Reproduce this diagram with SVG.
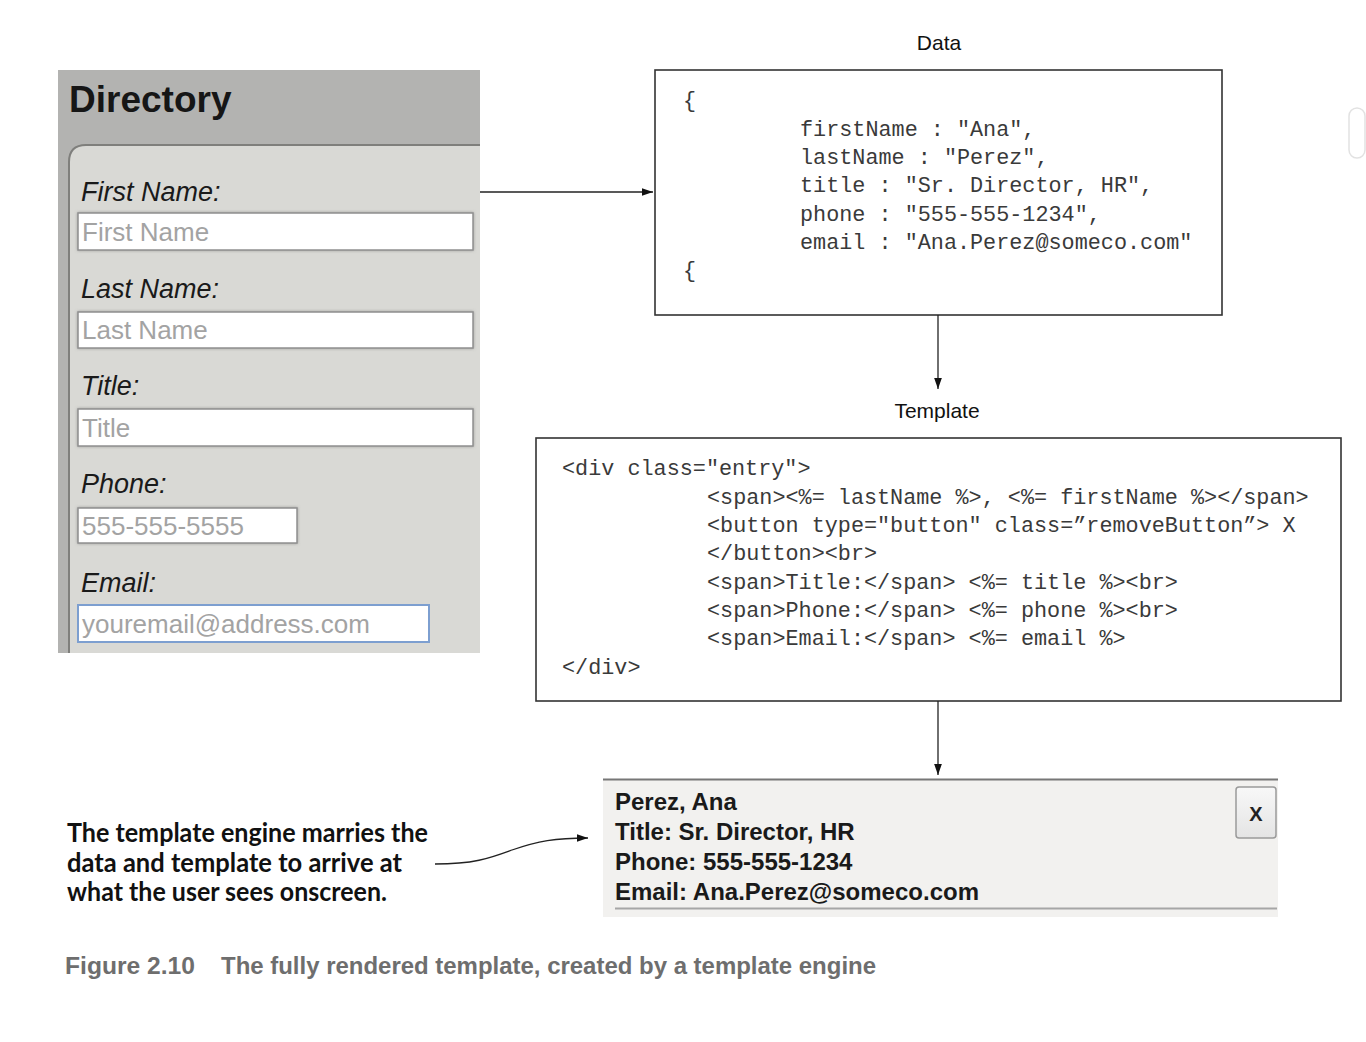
<svg xmlns="http://www.w3.org/2000/svg" width="1366" height="1042" viewBox="0 0 1366 1042">
<defs>
<style>
.lbl{font-family:"Liberation Sans",Arial,sans-serif;font-style:italic;font-size:27px;fill:#1a1a1a}
.ph{font-family:"Liberation Sans",Arial,sans-serif;font-size:26px;fill:#a3a3a3}
.inp{fill:#fff;stroke:#8f8f8f;stroke-width:1.5}
.code{font-family:"Liberation Mono","Courier New",monospace;font-size:21.8px;fill:#3a3a3a}
.cap{font-family:"Liberation Sans",Arial,sans-serif;font-size:21px;fill:#111}
.card{font-family:"Liberation Sans",Arial,sans-serif;font-weight:bold;font-size:24px;fill:#1a1a1a}
.note{font-family:Lato,"Open Sans",sans-serif;font-weight:bold;font-size:26px;fill:#111}
.fig{font-family:"Liberation Sans",Arial,sans-serif;font-weight:bold;font-size:23px;fill:#6e6e6e}
.box{fill:#fff;stroke:#333;stroke-width:1.6}
.conn{fill:none;stroke:#222;stroke-width:1.3}
</style>
<marker id="ah" viewBox="0 0 10 10" refX="10" refY="5" markerWidth="11" markerHeight="11" markerUnits="userSpaceOnUse" orient="auto">
<path d="M0,1.5 L10,5 L0,8.5 Z" fill="#111"/>
</marker>
<filter id="sh" x="-5%" y="-20%" width="110%" height="140%">
<feDropShadow dx="0" dy="0" stdDeviation="1.5" flood-color="#777" flood-opacity="0.6"/>
</filter>
<linearGradient id="btn" x1="0" y1="0" x2="0" y2="1">
<stop offset="0" stop-color="#f8f8f8"/>
<stop offset="1" stop-color="#e4e4e4"/>
</linearGradient>
</defs>
<rect width="1366" height="1042" fill="#fff"/>

<g id="directory">
<rect x="58" y="70" width="422" height="583" fill="#b3b3b1"/>
<path d="M69,653 L69,162 Q69,145 86,145 L480,145 L480,653 Z" fill="#d9d9d5"/>
<path d="M69,653 L69,162 Q69,145 86,145 L480,145" fill="none" stroke="#7f7f7c" stroke-width="2"/>
<text x="69" y="112" font-family="'Liberation Sans',Arial,sans-serif" font-weight="bold" font-size="37" fill="#161616">Directory</text>
<text class="lbl" x="81" y="201">First Name:</text>
<rect class="inp" x="78" y="213" width="395" height="37" filter="url(#sh)"/>
<text class="ph" x="82" y="241">First Name</text>
<text class="lbl" x="81" y="298">Last Name:</text>
<rect class="inp" x="78" y="312" width="395" height="36" filter="url(#sh)"/>
<text class="ph" x="82" y="339">Last Name</text>
<text class="lbl" x="81" y="395">Title:</text>
<rect class="inp" x="78" y="409" width="395" height="37" filter="url(#sh)"/>
<text class="ph" x="82" y="437">Title</text>
<text class="lbl" x="81" y="493">Phone:</text>
<rect class="inp" x="78" y="508" width="219" height="35" filter="url(#sh)"/>
<text class="ph" x="82" y="535">555-555-5555</text>
<text class="lbl" x="81" y="592">Email:</text>
<rect x="78" y="605" width="351" height="37" fill="#fff" stroke="#7d9fd0" stroke-width="2"/>
<text class="ph" x="82" y="633">youremail@address.com</text>
</g>

<g id="data">
<text class="cap" x="939" y="50" text-anchor="middle">Data</text>
<rect class="box" x="655" y="70" width="567" height="245"/>
<text class="code" x="683" y="107">{</text>
<text class="code" x="800" y="136">firstName : "Ana",</text>
<text class="code" x="800" y="164">lastName : "Perez",</text>
<text class="code" x="800" y="192">title : "Sr. Director, HR",</text>
<text class="code" x="800" y="221">phone : "555-555-1234",</text>
<text class="code" x="800" y="249">email : "Ana.Perez@someco.com"</text>
<text class="code" x="683" y="277">{</text>
</g>

<g id="template">
<text class="cap" x="937" y="418" text-anchor="middle">Template</text>
<rect class="box" x="536" y="438" width="805" height="263"/>
<text class="code" x="562" y="475">&lt;div class="entry"&gt;</text>
<text class="code" x="707" y="504">&lt;span&gt;&lt;%= lastName %&gt;, &lt;%= firstName %&gt;&lt;/span&gt;</text>
<text class="code" x="707" y="532">&lt;button type="button" class=”removeButton”&gt; X</text>
<text class="code" x="707" y="560">&lt;/button&gt;&lt;br&gt;</text>
<text class="code" x="707" y="589">&lt;span&gt;Title:&lt;/span&gt; &lt;%= title %&gt;&lt;br&gt;</text>
<text class="code" x="707" y="617">&lt;span&gt;Phone:&lt;/span&gt; &lt;%= phone %&gt;&lt;br&gt;</text>
<text class="code" x="707" y="645">&lt;span&gt;Email:&lt;/span&gt; &lt;%= email %&gt;</text>
<text class="code" x="562" y="674">&lt;/div&gt;</text>
</g>

<g id="result">
<rect x="603" y="779" width="675" height="138" fill="#f2f1ef"/>
<line x1="603" y1="779.5" x2="1278" y2="779.5" stroke="#777" stroke-width="2"/>
<line x1="615" y1="908.5" x2="1277" y2="908.5" stroke="#a6a6a6" stroke-width="2"/>
<text class="card" x="615" y="810">Perez, Ana</text>
<text class="card" x="615" y="840">Title: Sr. Director, HR</text>
<text class="card" x="615" y="870">Phone: 555-555-1234</text>
<text class="card" x="615" y="900">Email: Ana.Perez@someco.com</text>
<rect x="1236" y="787" width="40" height="51" rx="3" fill="url(#btn)" stroke="#9a9a9a" stroke-width="1.5"/>
<text x="1256" y="821" text-anchor="middle" font-family="'Liberation Sans',Arial,sans-serif" font-weight="bold" font-size="20" fill="#222">X</text>
</g>

<g id="note">
<text class="note" x="67" y="842" textLength="361" lengthAdjust="spacingAndGlyphs">The template engine marries the</text>
<text class="note" x="67" y="872" textLength="335" lengthAdjust="spacingAndGlyphs">data and template to arrive at</text>
<text class="note" x="67" y="901" textLength="320" lengthAdjust="spacingAndGlyphs">what the user sees onscreen.</text>
</g>

<g id="caption">
<text class="fig" x="65" y="974" textLength="130" lengthAdjust="spacingAndGlyphs">Figure 2.10</text>
<text class="fig" x="221" y="974" textLength="655" lengthAdjust="spacingAndGlyphs">The fully rendered template, created by a template engine</text>
</g>

<rect x="1349" y="108" width="16" height="50" rx="8" fill="none" stroke="#e2e2e2" stroke-width="1.5"/>

<g id="connectors">
<line class="conn" x1="480" y1="192" x2="653" y2="192" marker-end="url(#ah)"/>
<line class="conn" x1="938" y1="315" x2="938" y2="389" marker-end="url(#ah)"/>
<line class="conn" x1="938" y1="701" x2="938" y2="775" marker-end="url(#ah)"/>
<path class="conn" d="M435,864 C475,864 490,858 512,850 C538,841 555,838 588,838" marker-end="url(#ah)"/>
</g>
</svg>
